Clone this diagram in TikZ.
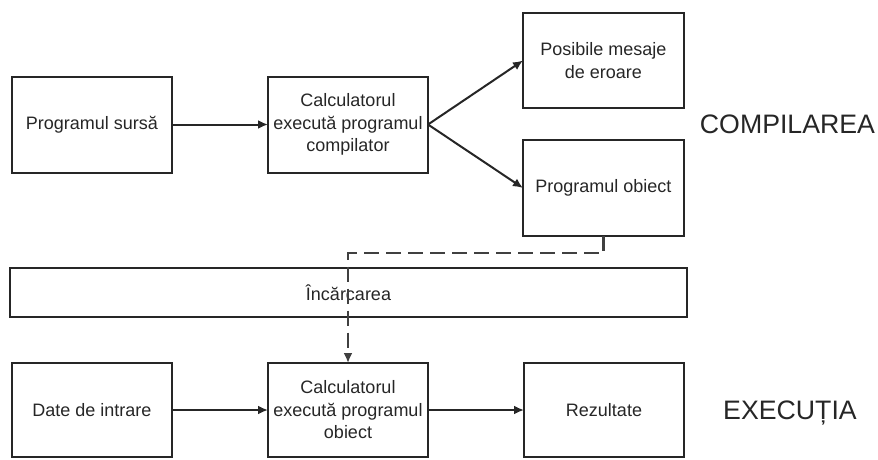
\documentclass[tikz,border=0pt]{standalone}
\usepackage{fontspec}
\setmainfont{Liberation Sans}
\usetikzlibrary{arrows.meta}
\begin{document}
\begin{tikzpicture}[x=1pt,y=-1pt,
  stagebox/.style={draw=black!85, line width=2pt, inner sep=0pt, outer sep=0pt,
    minimum width=160pt, minimum height=96pt, align=center, text=black!85,
    font=\fontsize{18}{22.5}\selectfont},
  flow/.style={line width=2pt, draw=black!85, -{Latex[length=10pt,width=9pt]}},
  loadflow/.style={line width=2.2pt, draw=black!75, dash pattern=on 15pt off 7pt,
    -{Latex[length=10pt,width=9pt]}},
  phase/.style={font=\fontsize{26.7}{32}\selectfont, text=black!85, inner sep=0pt}]
\useasboundingbox (0,0) rectangle (878,459);

% compilation stage
\node[stagebox] (src) at (92,124.5) {Programul sursă};
\node[stagebox] (comp) at (348,124.5) {Calculatorul\\execută programul\\compilator};
\node[stagebox, minimum height=95pt, minimum width=161pt] (err) at (603.5,60.5) {Posibile mesaje\\de eroare};
\node[stagebox, minimum width=161pt] (obj) at (603.5,188) {Programul obiect};
\node[phase] (lblc) at (787.5,124) {COMPILAREA};

% loading bar
\node[stagebox, minimum width=677pt, minimum height=49pt] (load) at (348.5,292.5) {Încărcarea};

% execution stage
\node[stagebox, minimum height=94pt] (inp) at (92,410) {Date de intrare};
\node[stagebox, minimum height=94pt] (exe) at (348,410) {Calculatorul\\execută programul\\obiect};
\node[stagebox, minimum height=94pt] (res) at (604,410) {Rezultate};
\node[phase] (lble) at (790,412.5) {EXECUȚIA};

% connectors
\draw[flow] (src.east) -- (comp.west);
\draw[flow] (comp.east) -- (err.west);
\draw[flow] (comp.east) -- (obj.west);
\draw[flow] (inp.east) -- (exe.west);
\draw[flow] (exe.east) -- (res.west);

\coordinate (turn) at (348,253);
\draw[loadflow] (obj.south) |- (turn) -- (exe.north);
\end{tikzpicture}
\end{document}
